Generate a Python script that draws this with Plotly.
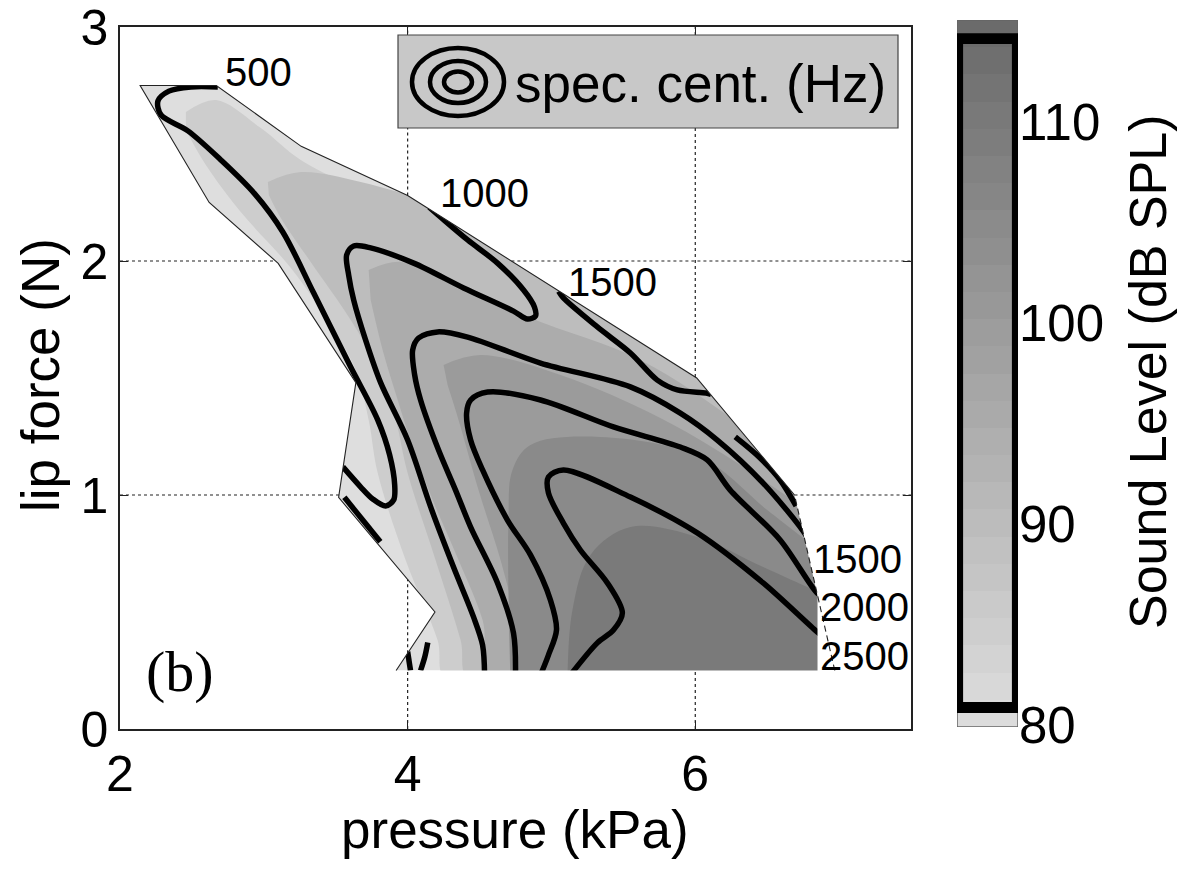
import plotly.graph_objects as go
from plotly.colors import sample_colorscale

# ---------------- axes ----------------
P_RANGE = [2.0, 7.5]      # pressure (kPa)
F_RANGE = [0.0, 3.0]      # lip force (N)
P_TICKS = [2, 4, 6]
F_TICKS = [0, 1, 2, 3]

# ---------------- measured region (hull of the blowing points) ----------------
HULL_P = [6.97, 6.69, 6.01, 4.00, 3.26, 2.67, 2.14, 2.62, 3.10, 3.64, 3.52, 4.19, 3.92]
HULL_F = [0.25, 1.00, 1.50, 2.28, 2.49, 2.75, 2.75, 2.25, 1.99, 1.48, 0.99, 0.50, 0.25]
FILL_P_MAX = 6.85          # the interpolated sound-level map ends here

# ---------------- sound level (dB SPL) : region where level >= value ----------------
SPL_MIN, SPL_MAX = 80, 115
SPL_DATA_LO, SPL_DATA_HI = 80.87, 114.17   # extreme values of the map

SPL85_P = [2.458, 2.667, 2.979, 3.257, 3.951, 4.785, 5.479, 5.965, 6.451, 6.729, 7.0, 7.0, 4.278, 4.208, 3.986, 3.792, 3.729, 3.639, 3.465, 3.188, 2.840, 2.597, 2.458]
SPL85_F = [2.637, 2.688, 2.568, 2.432, 2.218, 1.927, 1.654, 1.457, 1.124, 0.872, 0.722, 0.2, 0.2, 0.380, 0.722, 1.094, 1.321, 1.534, 1.726, 1.970, 2.209, 2.410, 2.560]

SPL90_P = [3.028, 3.257, 3.674, 4.299, 4.993, 5.618, 6.174, 6.660, 7.0, 7.0, 4.438, 4.368, 4.194, 4.000, 3.917, 3.799, 3.604, 3.326, 3.118, 3.035]
SPL90_F = [2.338, 2.380, 2.338, 2.218, 2.013, 1.756, 1.440, 1.141, 0.893, 0.2, 0.2, 0.380, 0.722, 1.094, 1.321, 1.534, 1.748, 1.996, 2.184, 2.282]

SPL95_P = [3.729, 3.951, 4.299, 4.854, 5.618, 6.313, 6.799, 7.0, 7.0, 4.611, 4.521, 4.354, 4.174, 4.042, 3.931, 3.826, 3.743]
SPL95_F = [1.962, 1.996, 1.910, 1.756, 1.577, 1.299, 1.043, 0.893, 0.2, 0.2, 0.466, 0.722, 0.979, 1.192, 1.406, 1.620, 1.833]

SPL100_P = [4.250, 4.507, 5.063, 5.757, 6.451, 6.938, 7.0, 7.0, 4.819, 4.750, 4.646, 4.493, 4.354, 4.278]
SPL100_F = [1.556, 1.598, 1.513, 1.329, 1.073, 0.850, 0.786, 0.2, 0.2, 0.466, 0.722, 1.021, 1.321, 1.470]

SPL105_P = [4.715, 4.701, 4.729, 4.854, 5.340, 6.035, 6.500, 6.938, 7.0, 7.0]
SPL105_F = [0.2, 0.893, 1.107, 1.214, 1.248, 1.162, 0.936, 0.722, 0.679, 0.2]

SPL110_P = [5.111, 5.146, 5.271, 5.549, 6.014, 6.472, 6.938, 7.0, 7.0]
SPL110_F = [0.2, 0.509, 0.744, 0.863, 0.821, 0.692, 0.564, 0.551, 0.2]

SPL_BANDS = [
    (80, HULL_P, HULL_F),
    (85, SPL85_P, SPL85_F),
    (90, SPL90_P, SPL90_F),
    (95, SPL95_P, SPL95_F),
    (100, SPL100_P, SPL100_F),
    (105, SPL105_P, SPL105_F),
    (110, SPL110_P, SPL110_F),
]

# ---------------- spectral centroid (Hz) iso-lines ----------------
SC500_P = [2.68, 2.493, 2.340, 2.264, 2.285, 2.472, 2.701, 2.931, 3.132, 3.347, 3.604, 3.792, 3.875, 3.910, 3.903, 3.847, 3.757, 3.674, 3.55]
SC500_F = [2.744, 2.744, 2.726, 2.684, 2.624, 2.556, 2.432, 2.291, 2.124, 1.863, 1.547, 1.321, 1.171, 1.043, 0.979, 0.953, 0.983, 1.034, 1.12]
SC500B_P = [3.56, 3.81]
SC500B_F = [0.99, 0.80]
SC500C_P = [4.00, 4.02]
SC500C_F = [0.33, 0.25]
SC500D_P = [4.14, 4.12, 4.09]
SC500D_F = [0.37, 0.31, 0.25]

SC1000_P = [4.15, 4.236, 4.417, 4.625, 4.806, 4.882, 4.889, 4.833, 4.736, 4.389, 4.042, 3.743, 3.625, 3.576, 3.590, 3.625, 3.708, 3.813, 4.000, 4.160, 4.319, 4.458, 4.521, 4.535]
SC1000_F = [2.23, 2.184, 2.090, 1.991, 1.876, 1.803, 1.765, 1.752, 1.786, 1.885, 1.991, 2.056, 2.064, 2.026, 1.940, 1.833, 1.662, 1.479, 1.235, 0.949, 0.692, 0.479, 0.359, 0.231]
SC1000B_P = [6.278, 6.451, 6.590, 6.701]
SC1000B_F = [1.248, 1.158, 1.064, 0.953]

SC1500_P = [6.90, 6.847, 6.778, 6.472, 6.153, 5.896, 5.549, 4.924, 4.417, 4.208, 4.076, 4.035, 4.049, 4.090, 4.215, 4.333, 4.438, 4.625, 4.736, 4.750]
SC1500_F = [0.70, 0.735, 0.821, 1.051, 1.235, 1.350, 1.462, 1.564, 1.675, 1.697, 1.671, 1.620, 1.513, 1.406, 1.192, 1.021, 0.863, 0.624, 0.410, 0.231]
SC1500B_P = [5.05, 5.083, 5.319, 5.549, 5.736, 5.875, 6.076, 6.11]
SC1500B_F = [1.87, 1.842, 1.718, 1.607, 1.491, 1.449, 1.436, 1.43]

SC2000_P = [6.90, 6.847, 6.590, 6.243, 6.083, 5.896, 5.431, 4.924, 4.556, 4.438, 4.410, 4.438, 4.521, 4.694, 4.854, 4.993, 5.035, 4.979, 4.924]
SC2000_F = [0.56, 0.581, 0.808, 1.021, 1.150, 1.205, 1.291, 1.406, 1.440, 1.406, 1.350, 1.235, 1.107, 0.893, 0.744, 0.551, 0.423, 0.316, 0.231]

SC2500_P = [6.90, 6.847, 6.472, 6.014, 5.549, 5.083, 4.979, 4.979, 5.083, 5.201, 5.389, 5.493, 5.431, 5.319, 5.132]
SC2500_F = [0.39, 0.415, 0.624, 0.838, 0.991, 1.107, 1.077, 1.009, 0.880, 0.765, 0.624, 0.496, 0.423, 0.368, 0.231]

SC_LINES = [
    (SC500_P, SC500_F), (SC500B_P, SC500B_F), (SC500C_P, SC500C_F), (SC500D_P, SC500D_F),
    (SC1000_P, SC1000_F), (SC1000B_P, SC1000B_F),
    (SC1500_P, SC1500_F), (SC1500B_P, SC1500B_F),
    (SC2000_P, SC2000_F), (SC2500_P, SC2500_F),
]

# label text and where it sits (pressure, force)
SC_LABELS = ["500", "1000", "1500", "1500", "2000", "2500"]
SC_LABEL_P = [2.965, 4.535, 5.424, 7.125, 7.174, 7.174]
SC_LABEL_F = [2.808, 2.291, 1.910, 0.726, 0.521, 0.312]

FONT = "Liberation Sans, Arial, Helvetica, sans-serif"
W, H = 1190, 873

GRAY_SCALE = [[0.0, "rgb(222,222,222)"], [1.0, "rgb(105,105,105)"]]


def level_color(v):
    t = (v - SPL_MIN) / (SPL_MAX - SPL_MIN)
    return sample_colorscale(GRAY_SCALE, [min(max(t, 0), 1)])[0]


fig = go.Figure()

# filled sound-level bands, lowest first
for lvl, bp, bf in SPL_BANDS:
    col = level_color(lvl)
    fig.add_trace(go.Scatter(
        x=bp, y=bf, mode="lines", fill="toself", fillcolor=col,
        line=dict(color=col, width=0, shape="spline" if lvl > 80 else "linear", smoothing=1.0),
        hoverinfo="skip", showlegend=False,
    ))

# spectral-centroid iso-lines
for lp, lf in SC_LINES:
    fig.add_trace(go.Scatter(
        x=lp, y=lf, mode="lines",
        line=dict(color="black", width=5.5, shape="spline", smoothing=0.9),
        hoverinfo="skip", showlegend=False,
    ))

# colour bar strip on its own axes
N_STEPS = 26
cb_lo, cb_hi = 79.9, 115.1
edges = [cb_lo + (cb_hi - cb_lo) * i / N_STEPS for i in range(N_STEPS + 1)]
mids = [(edges[i] + edges[i + 1]) / 2 for i in range(N_STEPS)]
fig.add_trace(go.Heatmap(
    x=[0, 1], y=edges, z=[[m] for m in mids], xaxis="x2", yaxis="y2",
    colorscale=GRAY_SCALE, zmin=SPL_MIN, zmax=SPL_MAX, showscale=False, hoverinfo="skip",
))

shapes = []

# white mask outside the measured region (evenodd hole)
pad_p, pad_f = 0.07, 0.04
outer = (f"M{P_RANGE[0]+pad_p},{F_RANGE[0]+pad_f} L{P_RANGE[1]-pad_p},{F_RANGE[0]+pad_f} "
         f"L{P_RANGE[1]-pad_p},{F_RANGE[1]-pad_f} L{P_RANGE[0]+pad_p},{F_RANGE[1]-pad_f} Z")
hole = "M" + " L".join(f"{p},{f}" for p, f in zip(HULL_P, HULL_F)) + " Z"
shapes.append(dict(type="path", path=outer + " " + hole, xref="x", yref="y", layer="above",
                   fillcolor="white", line=dict(width=0), fillrule="evenodd"))
shapes.append(dict(type="rect", xref="x", yref="y", layer="above",
                   x0=FILL_P_MAX, x1=P_RANGE[1] - pad_p, y0=F_RANGE[0] + pad_f, y1=0.95,
                   fillcolor="white", line=dict(width=0)))


def crossings(const, vertical):
    pts = list(zip(HULL_P, HULL_F))
    out = []
    for i in range(len(pts)):
        (x0, y0), (x1, y1) = pts[i], pts[(i + 1) % len(pts)]
        a0, a1, b0, b1 = (x0, x1, y0, y1) if vertical else (y0, y1, x0, x1)
        if (a0 <= const < a1) or (a1 <= const < a0):
            t = (const - a0) / (a1 - a0)
            out.append(b0 + t * (b1 - b0))
    return sorted(out)


grid = dict(color="#222", width=1.2, dash="3px,3px")
for xv in P_TICKS[1:]:
    b = [F_RANGE[0]] + crossings(xv, True) + [F_RANGE[1]]
    for i in range(0, len(b) - 1, 2):
        shapes.append(dict(type="line", xref="x", yref="y", layer="above",
                           x0=xv, x1=xv, y0=b[i], y1=b[i + 1], line=grid))
for yv in F_TICKS[1:-1]:
    b = [P_RANGE[0]] + crossings(yv, False) + [P_RANGE[1]]
    for i in range(0, len(b) - 1, 2):
        shapes.append(dict(type="line", xref="x", yref="y", layer="above",
                           x0=b[i], x1=b[i + 1], y0=yv, y1=yv, line=grid))

# outline of the measured region (open at the bottom)
outline = "M" + " L".join(f"{p},{f}" for p, f in zip(HULL_P[1:], HULL_F[1:]))
shapes.append(dict(type="path", path=outline, xref="x", yref="y", layer="above",
                   line=dict(color="#222", width=1.1)))
shapes.append(dict(type="line", xref="x", yref="y", layer="above",
                   x0=HULL_P[0], y0=HULL_F[0], x1=HULL_P[1], y1=HULL_F[1],
                   line=dict(color="#222", width=1.1, dash="6px,4px")))

# legend box with concentric-ellipse key
LEG_X0, LEG_X1, LEG_Y0, LEG_Y1 = 398 / W, 898 / W, 1 - 128 / H, 1 - 35 / H
shapes.append(dict(type="rect", xref="paper", yref="paper", layer="above",
                   x0=LEG_X0, x1=LEG_X1, y0=LEG_Y0, y1=LEG_Y1,
                   fillcolor="#c8c8c8", line=dict(color="#444", width=1.2)))
for rx, ry in [(46, 34), (28, 21), (14, 10.5)]:
    shapes.append(dict(type="circle", xref="paper", yref="paper", layer="above",
                       xsizemode="pixel", ysizemode="pixel",
                       xanchor=458 / W, yanchor=1 - 82 / H,
                       x0=-rx, x1=rx, y0=-ry, y1=ry,
                       line=dict(color="black", width=4.5)))

# colour bar frame and the black marks at the data extremes
shapes.append(dict(type="rect", xref="x2", yref="y2", x0=0, x1=1, y0=cb_lo, y1=cb_hi,
                   line=dict(color="#666", width=1.5), layer="above"))
frame = (f"M0,{SPL_DATA_LO - 0.27} L1,{SPL_DATA_LO - 0.27} L1,{SPL_DATA_HI + 0.27} L0,{SPL_DATA_HI + 0.27} Z "
         f"M0.1,{SPL_DATA_LO + 0.27} L0.9,{SPL_DATA_LO + 0.27} L0.9,{SPL_DATA_HI - 0.27} L0.1,{SPL_DATA_HI - 0.27} Z")
shapes.append(dict(type="path", path=frame, xref="x2", yref="y2", layer="above",
                   fillcolor="black", line=dict(width=0), fillrule="evenodd"))

annotations = []
for txt, lp, lf in zip(SC_LABELS, SC_LABEL_P, SC_LABEL_F):
    annotations.append(dict(text=txt, x=lp, y=lf, xref="x", yref="y", showarrow=False,
                            xanchor="center", yanchor="middle",
                            font=dict(family=FONT, size=40, color="black")))
annotations.append(dict(text="spec. cent. (Hz)", x=513 / W, y=1 - 84 / H, xref="paper", yref="paper",
                        xanchor="left", yanchor="middle", showarrow=False,
                        font=dict(family=FONT, size=53, color="black")))
annotations.append(dict(text="(b)", x=2.42, y=0.245, xref="x", yref="y", showarrow=False,
                        xanchor="center", yanchor="middle",
                        font=dict(family="Liberation Serif, Times New Roman, serif", size=58, color="black")))
annotations.append(dict(text="pressure (kPa)", x=515 / W, y=1 - 829 / H, xref="paper", yref="paper",
                        xanchor="center", yanchor="middle",
                        showarrow=False, font=dict(family=FONT, size=53, color="black")))
annotations.append(dict(text="lip force (N)", x=40 / W, y=1 - 375 / H, xref="paper", yref="paper",
                        xanchor="center", yanchor="middle",
                        textangle=-90, showarrow=False, font=dict(family=FONT, size=53, color="black")))
annotations.append(dict(text="Sound Level (dB SPL)", x=1148 / W, y=1 - 372 / H, xref="paper", yref="paper",
                        xanchor="center", yanchor="middle",
                        textangle=-90, showarrow=False, font=dict(family=FONT, size=52, color="black")))

axis_common = dict(showgrid=False, zeroline=False, ticks="inside", ticklen=8, tickwidth=1.2,
                   tickcolor="#222", showline=True, linecolor="#222", linewidth=1.5, mirror="ticks",
                   ticklabeloverflow="allow",
                   tickfont=dict(family=FONT, size=50, color="black"), automargin=False)

fig.update_layout(
    width=W, height=H, margin=dict(l=0, r=0, t=0, b=0),
    paper_bgcolor="white", plot_bgcolor="white", showlegend=False,
    xaxis=dict(range=P_RANGE, domain=[120 / W, 911 / W], tickvals=P_TICKS, anchor="y", **axis_common),
    yaxis=dict(range=F_RANGE, domain=[1 - 729 / H, 1 - 27 / H], tickvals=F_TICKS, anchor="x", **axis_common),
    xaxis2=dict(range=[0, 1], domain=[957 / W, 1018 / W], anchor="y2", visible=False),
    yaxis2=dict(range=[cb_lo, cb_hi], domain=[1 - 727 / H, 1 - 20 / H], anchor="x2", side="right",
                tickvals=[80, 90, 100, 110], ticks="", showgrid=False, zeroline=False, showline=False,
                ticklabeloverflow="allow",
                tickfont=dict(family=FONT, size=51, color="black"), automargin=False),
    shapes=shapes, annotations=annotations,
)

fig.write_html("out.html")
